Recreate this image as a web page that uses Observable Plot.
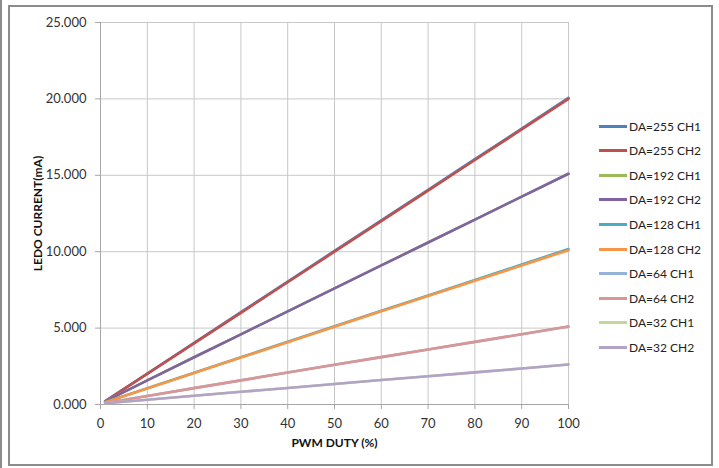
<!DOCTYPE html>
<html>
<head>
<meta charset="utf-8">
<script src="https://cdn.jsdelivr.net/npm/d3@7"></script>
<script src="https://cdn.jsdelivr.net/npm/@observablehq/plot@0.6"></script>
<style>
  html, body { margin: 0; padding: 0; background: #fff; }
  #wrap { position: relative; width: 719px; height: 468px; overflow: hidden; font-family: Lato, "Open Sans", sans-serif; }
  #edge { position: absolute; left: 0; top: 0; width: 2px; height: 468px; background: #8c8c8c; }
  #frame { position: absolute; left: 8px; top: 5px; width: 701px; height: 457px; border: 2px solid #8c8c8c; box-sizing: content-box; }
  #chart { position: absolute; left: 0; top: 0; }
  #legend { position: absolute; left: 599px; top: 114px; font-size: 12px; color: #222; }
  .row { height: 24.55px; display: flex; align-items: center; }
  .sw { width: 28px; height: 3px; margin-right: 2px; }
  svg g[aria-label="y-axis label"] text, svg g[aria-label="x-axis label"] text { font-weight: bold; font-size: 12px; fill: #111; }
</style>
</head>
<body>
<div id="wrap">
  <div id="edge"></div>
  <div id="frame"></div>
  <div id="chart"></div>
  <div id="legend"></div>
</div>
<script>
const duty = [1, 10, 20, 30, 40, 50, 60, 70, 80, 90, 100];
const seriesNames = ["DA=255 CH1", "DA=255 CH2", "DA=192 CH1", "DA=192 CH2", "DA=128 CH1", "DA=128 CH2", "DA=64 CH1", "DA=64 CH2", "DA=32 CH1", "DA=32 CH2"];
const colors = ["#4F81BD", "#C0504D", "#9BBB59", "#8064A2", "#4BACC6", "#F79646", "#95B3D7", "#D99694", "#C3D69B", "#B3A2C7"];
const da255ch1 = [0.22, 2.03, 4.04, 6.04, 8.05, 10.05, 12.05, 14.05, 16.06, 18.06, 20.07];
const da255ch2 = [0.20, 2.00, 4.00, 6.00, 8.00, 10.00, 12.00, 14.00, 16.00, 18.00, 20.00];
const da192ch1 = [0.20, 1.58, 3.09, 4.59, 6.10, 7.60, 9.10, 10.60, 12.10, 13.60, 15.10];
const da192ch2 = [0.20, 1.58, 3.09, 4.59, 6.10, 7.60, 9.10, 10.60, 12.10, 13.60, 15.10];
const da128ch1 = [0.15, 1.06, 2.08, 3.09, 4.11, 5.12, 6.13, 7.14, 8.15, 9.16, 10.17];
const da128ch2 = [0.15, 1.05, 2.06, 3.07, 4.08, 5.09, 6.10, 7.10, 8.10, 9.10, 10.10];
const da64ch1  = [0.10, 0.56, 1.07, 1.58, 2.09, 2.60, 3.10, 3.60, 4.10, 4.60, 5.10];
const da64ch2  = [0.10, 0.56, 1.07, 1.58, 2.09, 2.60, 3.10, 3.60, 4.10, 4.60, 5.10];
const da32ch1  = [0.08, 0.31, 0.57, 0.83, 1.08, 1.34, 1.60, 1.85, 2.10, 2.36, 2.62];
const da32ch2  = [0.08, 0.31, 0.57, 0.83, 1.08, 1.34, 1.60, 1.85, 2.10, 2.36, 2.62];
const yTicks = [0, 5, 10, 15, 20, 25];
const xTicks = [0, 10, 20, 30, 40, 50, 60, 70, 80, 90, 100];

const allSeries = [da255ch1, da255ch2, da192ch1, da192ch2, da128ch1, da128ch2, da64ch1, da64ch2, da32ch1, da32ch2];
const data = [];
allSeries.forEach((vals, i) => vals.forEach((v, j) => data.push({series: seriesNames[i], duty: duty[j], current: v})));

const chart = Plot.plot({
  width: 719,
  height: 468,
  marginLeft: 100,
  marginRight: 151,
  marginTop: 22,
  marginBottom: 64,
  style: { fontFamily: "Lato, 'Open Sans', sans-serif", fontSize: "13px", color: "#333", background: "transparent", overflow: "visible" },
  x: { domain: [0, 100] },
  y: { domain: [0, 25] },
  color: { domain: seriesNames, range: colors },
  marks: [
    Plot.gridX(xTicks, { stroke: "#c8c8c8", strokeOpacity: 1, strokeWidth: 1 }),
    Plot.gridY(yTicks, { stroke: "#c8c8c8", strokeOpacity: 1, strokeWidth: 1 }),
    Plot.ruleX([0], { stroke: "#a6a6a6" }),
    Plot.ruleY([0], { stroke: "#a6a6a6" }),
    Plot.axisY(yTicks, { tickFormat: d3.format(".3f"), tickSize: 5, tickPadding: 9, stroke: "#a6a6a6", fill: "#333", label: "LEDO CURRENT(mA)", labelAnchor: "center", labelArrow: "none", labelOffset: 67 }),
    Plot.axisX(xTicks, { tickSize: 5, tickPadding: 9, stroke: "#a6a6a6", fill: "#333", label: "PWM DUTY (%)", labelAnchor: "center", labelArrow: "none", labelOffset: 42 }),
    Plot.line(data, { x: "duty", y: "current", z: "series", stroke: "series", strokeWidth: 2.6 })
  ]
});
document.getElementById("chart").appendChild(chart);

const legend = document.getElementById("legend");
seriesNames.forEach((name, i) => {
  const row = document.createElement("div");
  row.className = "row";
  const sw = document.createElement("div");
  sw.className = "sw";
  sw.style.background = colors[i];
  const t = document.createElement("span");
  t.textContent = name;
  row.appendChild(sw);
  row.appendChild(t);
  legend.appendChild(row);
});
</script>
</body>
</html>
